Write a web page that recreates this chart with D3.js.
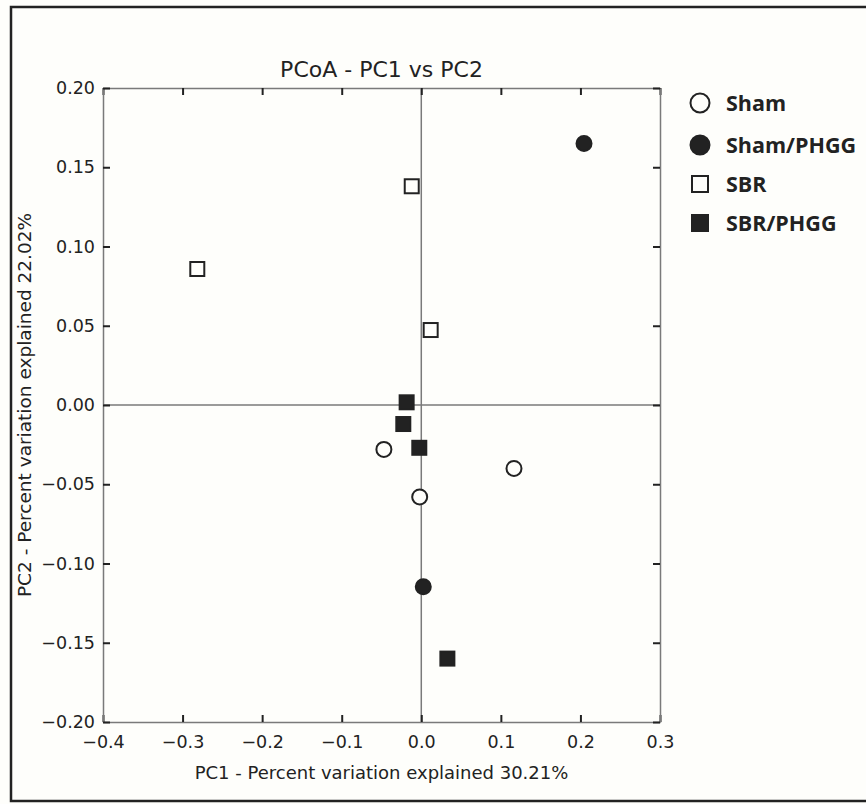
<!DOCTYPE html>
<html>
<head>
<meta charset="utf-8">
<script src="https://cdn.jsdelivr.net/npm/d3@7"></script>
<style>
body { margin: 0; background: #fefefb; }
</style>
</head>
<body>
<div id="chart"></div>
<script>
var groups = ['Sham', 'Sham/PHGG', 'SBR', 'SBR/PHGG'];
var shamX = [-0.047, -0.002, 0.1165];
var shamY = [-0.028, -0.058, -0.040];
var shamPhggX = [0.2045, 0.0025];
var shamPhggY = [0.165, -0.1146];
var sbrX = [-0.012, -0.2815, 0.0118];
var sbrY = [0.138, 0.0858, 0.0473];
var sbrPhggX = [-0.0184, -0.0226, -0.0025, 0.0328];
var sbrPhggY = [0.0017, -0.012, -0.027, -0.160];
var xTicks = [-0.4, -0.3, -0.2, -0.1, 0.0, 0.1, 0.2, 0.3];
var yTicks = [-0.20, -0.15, -0.10, -0.05, 0.00, 0.05, 0.10, 0.15, 0.20];

var width = 866, height = 804;
var plotLeft = 103, plotRight = 660, plotTop = 88, plotBottom = 722;
var ink = '#222';
var axisGray = '#7a7a7a';
var font = 'DejaVu Sans, sans-serif';

var svg = d3.select('#chart').append('svg')
	.attr('width', width)
	.attr('height', height);

// outer frame
svg.append('rect')
	.attr('x', 11).attr('y', 7)
	.attr('width', 870).attr('height', 794)
	.attr('fill', 'none')
	.attr('stroke', ink)
	.attr('stroke-width', 2.5);

var x = d3.scaleLinear().domain([-0.4, 0.3]).range([plotLeft, plotRight]);
var y = d3.scaleLinear().domain([-0.2, 0.2]).range([plotBottom, plotTop]);

var plot = svg.append('g');

// zero lines
plot.append('line')
	.attr('x1', x(0)).attr('x2', x(0))
	.attr('y1', plotTop).attr('y2', plotBottom)
	.attr('stroke', axisGray).attr('stroke-width', 1.5);
plot.append('line')
	.attr('x1', plotLeft).attr('x2', plotRight)
	.attr('y1', y(0)).attr('y2', y(0))
	.attr('stroke', axisGray).attr('stroke-width', 1.5);

// axes with inward ticks
function styleAxis(g) {
	g.select('.domain').attr('stroke', axisGray).attr('stroke-width', 1.5);
	g.selectAll('.tick line').attr('stroke', ink).attr('stroke-width', 2);
	g.selectAll('.tick text').attr('fill', ink)
		.style('font-family', font).style('font-size', '17.5px');
}

var fmtX = function(d) { return d3.format('.1f')(d).replace('-', '\u2212'); };
var fmtY = function(d) { return d3.format('.2f')(d).replace('-', '\u2212'); };

plot.append('g')
	.attr('transform', 'translate(0,' + plotBottom + ')')
	.call(d3.axisBottom(x).tickValues(xTicks).tickFormat(fmtX).tickSizeInner(-7).tickSizeOuter(0).tickPadding(14))
	.call(styleAxis);
plot.append('g')
	.attr('transform', 'translate(0,' + plotTop + ')')
	.call(d3.axisTop(x).tickValues(xTicks).tickFormat('').tickSizeInner(-7).tickSizeOuter(0))
	.call(styleAxis);
plot.append('g')
	.attr('transform', 'translate(' + plotLeft + ',0)')
	.call(d3.axisLeft(y).tickValues(yTicks).tickFormat(fmtY).tickSizeInner(-7).tickSizeOuter(0).tickPadding(8))
	.call(styleAxis);
plot.append('g')
	.attr('transform', 'translate(' + plotRight + ',0)')
	.call(d3.axisRight(y).tickValues(yTicks).tickFormat('').tickSizeInner(-7).tickSizeOuter(0))
	.call(styleAxis);

// titles
svg.append('text')
	.attr('x', (plotLeft + plotRight) / 2).attr('y', 77)
	.attr('text-anchor', 'middle')
	.style('font-family', font).style('font-size', '22px')
	.attr('fill', ink)
	.text('PCoA - PC1 vs PC2');
svg.append('text')
	.attr('x', (plotLeft + plotRight) / 2).attr('y', 779)
	.attr('text-anchor', 'middle')
	.style('font-family', font).style('font-size', '18px')
	.attr('fill', ink)
	.text('PC1 - Percent variation explained 30.21%');
svg.append('text')
	.attr('transform', 'translate(31,' + ((plotTop + plotBottom) / 2) + ') rotate(-90)')
	.attr('text-anchor', 'middle')
	.style('font-family', font).style('font-size', '18.5px')
	.attr('fill', ink)
	.text('PC2 - Percent variation explained 22.02%');

// markers
function zip(xs, ys) {
	return xs.map(function(v, i) { return [v, ys[i]]; });
}
var series = [
	{ name: groups[0], shape: 'circle', fill: '#fefefb', pts: zip(shamX, shamY) },
	{ name: groups[1], shape: 'circle', fill: ink, pts: zip(shamPhggX, shamPhggY) },
	{ name: groups[2], shape: 'square', fill: '#fefefb', pts: zip(sbrX, sbrY) },
	{ name: groups[3], shape: 'square', fill: ink, pts: zip(sbrPhggX, sbrPhggY) }
];

function drawMarker(g, shape, fill, cx, cy, size) {
	if (shape === 'circle') {
		g.append('circle')
			.attr('cx', cx).attr('cy', cy).attr('r', size / 2)
			.attr('fill', fill).attr('stroke', ink).attr('stroke-width', 2);
	} else {
		g.append('rect')
			.attr('x', cx - size / 2).attr('y', cy - size / 2)
			.attr('width', size).attr('height', size)
			.attr('fill', fill).attr('stroke', ink).attr('stroke-width', 2);
	}
}

var marks = svg.append('g');
series.forEach(function(s) {
	s.pts.forEach(function(p) {
		drawMarker(marks, s.shape, s.fill, x(p[0]), y(p[1]), s.shape === 'circle' ? 15 : 14);
	});
});

// legend
var legend = svg.append('g');
var legendY = [103, 145, 184, 223];
series.forEach(function(s, i) {
	drawMarker(legend, s.shape, s.fill, 700, legendY[i], s.shape === 'circle' ? 19 : 16);
	legend.append('text')
		.attr('x', 726).attr('y', legendY[i] + 8)
		.style('font-family', 'Open Sans, sans-serif')
		.style('font-size', '21.5px').style('font-weight', 'bold')
		.attr('fill', ink)
		.text(s.name);
});
</script>
</body>
</html>
